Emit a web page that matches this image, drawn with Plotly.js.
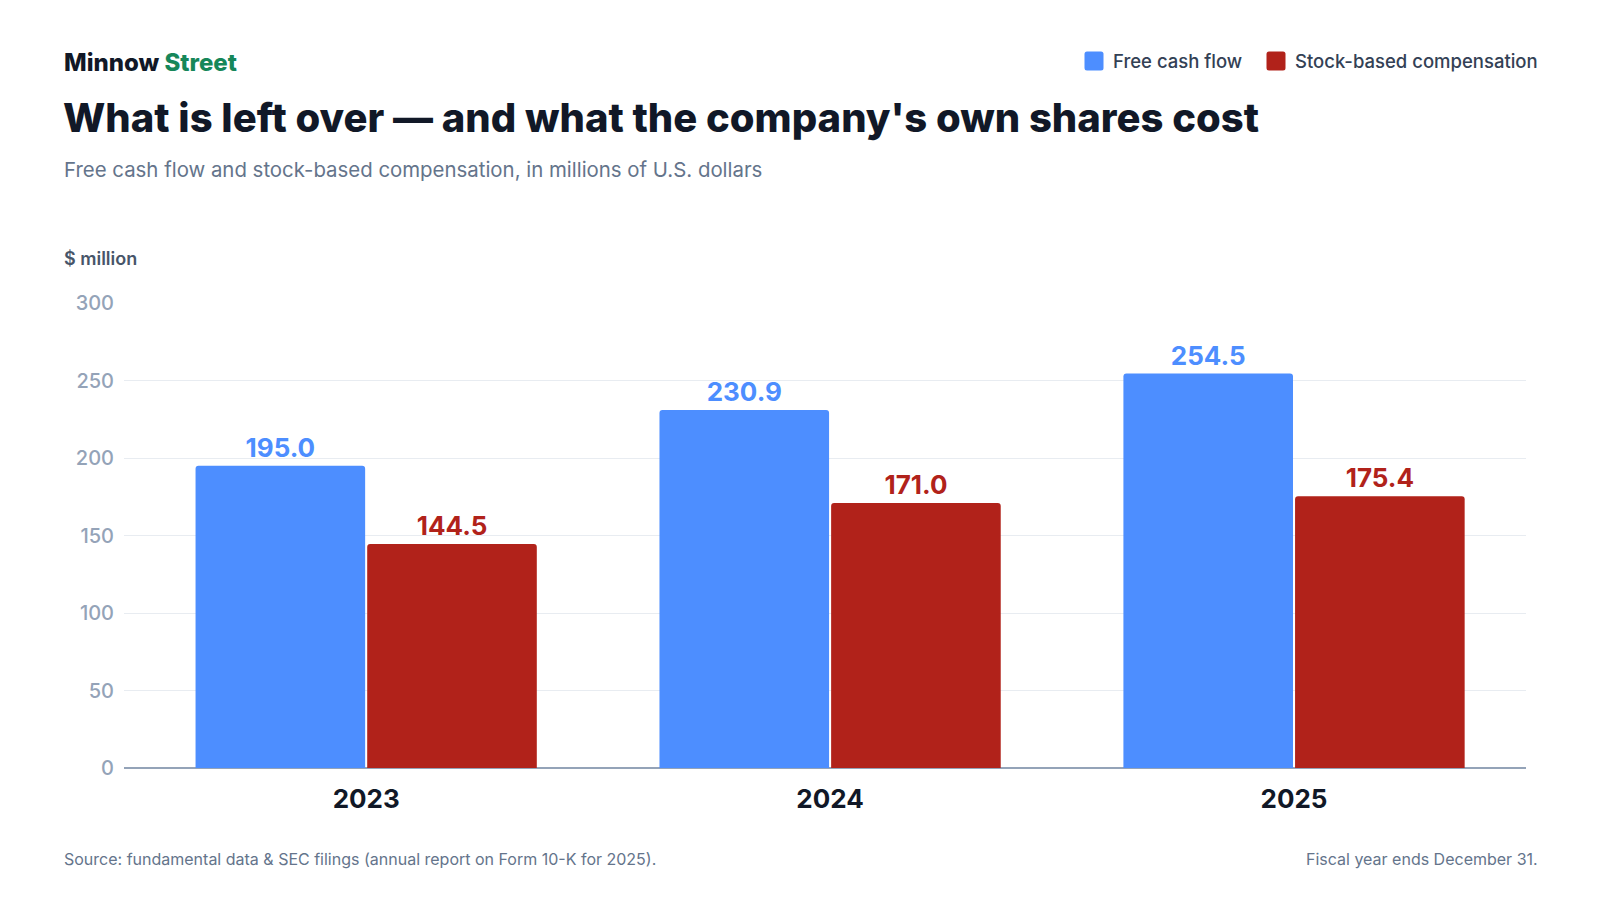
<!DOCTYPE html>
<html>
<head>
<meta charset="utf-8">
<script src="https://cdn.plot.ly/plotly-3.0.1.min.js"></script>
<style>
	html, body { margin: 0; padding: 0; background: #ffffff; }
	#crtCash { width: 1600px; height: 900px; }
</style>
</head>
<body>
<div id="crtCash"></div>
<script>
// Fiscal years and values ($ million)
var years = ["2023", "2024", "2025"];
var freeCashFlow = [195.0, 230.9, 254.5];
var stockComp = [144.5, 171.0, 175.4];
var seriesNames = ["Free cash flow", "Stock-based compensation"];
var seriesColors = ["#4d8eff", "#b1221a"];
var yTicks = [0, 50, 100, 150, 200, 250, 300];

// plot box in pixels, used to place the header/footer text in paper units
var W = 1600, H = 900;
var L = 124, R = 74, T = 303, B = 132;
var plotW = W - L - R, plotH = H - T - B;
var px = function(x) { return (x - L) / plotW; };
var py = function(y) { return (H - B - y) / plotH; };

var FONT = "Inter, 'Noto Sans', sans-serif";

var makeBar = function(vals, i) {
	return {
		x: years,
		y: vals,
		name: seriesNames[i],
		type: 'bar',
		marker: { color: seriesColors[i] },
		text: vals.map(function(v) { return v.toFixed(1); }),
		textposition: 'outside',
		textfont: { family: FONT, size: 26, color: seriesColors[i], weight: 'bold' },
		cliponaxis: false,
		hoverinfo: 'skip',
		showlegend: false
	};
};

var data = [makeBar(freeCashFlow, 0), makeBar(stockComp, 1)];

var annotations = [
	{ text: "Minnow <span style='color:#16875a'>Street</span>", x: px(62), y: py(62),
		font: { family: FONT, size: 24, color: '#111827', weight: 800 } },
	{ text: "What is left over \u2014 and what the company's own shares cost", x: px(61), y: py(118),
		font: { family: FONT, size: 40, color: '#111827', weight: 800 } },
	{ text: "Free cash flow and stock-based compensation, in millions of U.S. dollars", x: px(62), y: py(169),
		font: { family: FONT, size: 20.4, color: '#64748b' } },
	{ text: "$ million", x: px(62), y: py(258),
		font: { family: FONT, size: 18, color: '#475569', weight: 600 } },
	{ text: "Source: fundamental data &amp; SEC filings (annual report on Form 10-K for 2025).", x: px(62), y: py(859),
		font: { family: FONT, size: 16, color: '#64748b' } },
	{ text: "Fiscal year ends December 31.", x: px(1540), y: py(859), xanchor: 'right',
		font: { family: FONT, size: 16, color: '#64748b' } }
];

// legend swatches (rounded squares) + labels in the top right
var shapes = [];
var legX = [1094, 1276];
var swatch = "M-7,-9.5 H7 Q9.5,-9.5 9.5,-7 V7 Q9.5,9.5 7,9.5 H-7 Q-9.5,9.5 -9.5,7 V-7 Q-9.5,-9.5 -7,-9.5 Z";
for (var i = 0; i < seriesNames.length; i++) {
	shapes.push({
		type: 'path', xref: 'paper', yref: 'paper', layer: 'above',
		xsizemode: 'pixel', ysizemode: 'pixel',
		xanchor: px(legX[i]), yanchor: py(61),
		path: swatch,
		fillcolor: seriesColors[i], line: { width: 0 }
	});
	annotations.push({
		text: seriesNames[i], x: px(legX[i] + 17), y: py(61),
		font: { family: FONT, size: 18.5, color: '#334155', weight: 500 }
	});
}

annotations.forEach(function(a) {
	a.xref = 'paper';
	a.yref = 'paper';
	a.showarrow = false;
	a.xanchor = a.xanchor || 'left';
	a.yanchor = 'middle';
});

var layout = {
	width: W,
	height: H,
	margin: { l: L, r: R, t: T, b: B, pad: 0 },
	paper_bgcolor: '#ffffff',
	plot_bgcolor: '#ffffff',
	font: { family: FONT },
	barmode: 'group',
	bargap: 0.26,
	bargroupgap: 0.012,
	barcornerradius: 3,
	xaxis: {
		type: 'category',
		range: [-0.522, 2.5],
		showgrid: false,
		showline: false,
		ticks: '',
		ticklabelstandoff: 13,
		tickfont: { family: FONT, size: 26, color: '#111827', weight: 'bold' },
		fixedrange: true
	},
	yaxis: {
		range: [0, 300],
		tickvals: yTicks,
		showgrid: true,
		gridcolor: '#e8ecf1',
		gridwidth: 1,
		zeroline: true,
		zerolinecolor: '#94a3b8',
		zerolinewidth: 2,
		ticks: '',
		ticklabelstandoff: 9,
		tickfont: { family: FONT, size: 20, color: '#94a3b8', weight: 500 },
		fixedrange: true
	},
	annotations: annotations,
	shapes: shapes
};

Plotly.newPlot('crtCash', data, layout, { displayModeBar: false, staticPlot: true });
</script>
</body>
</html>
